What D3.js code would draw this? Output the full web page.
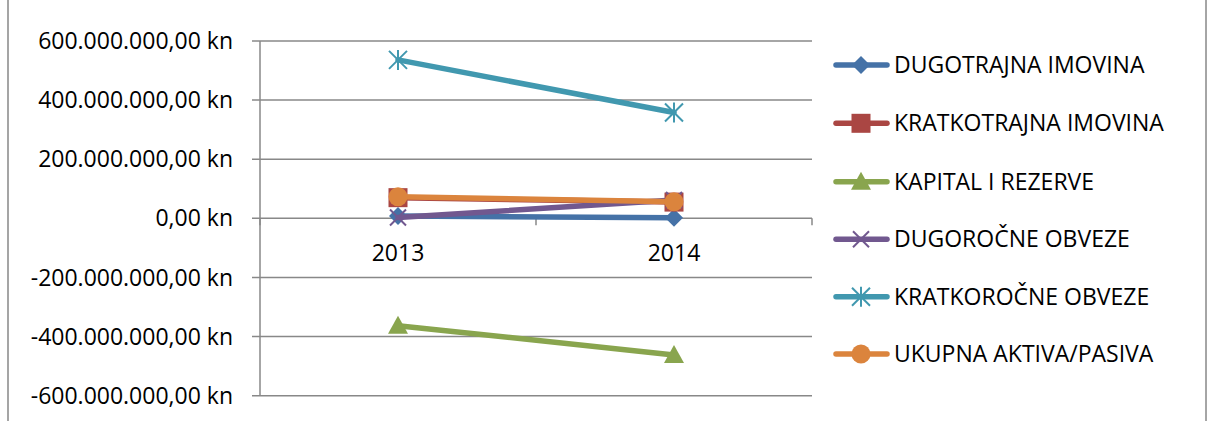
<!DOCTYPE html>
<html><head><meta charset="utf-8">
<script src="https://cdn.jsdelivr.net/npm/d3@7/dist/d3.min.js"></script>
<style>body{margin:0;background:#fff}svg{display:block}</style>
</head><body>
<svg id="c" width="1214" height="421"></svg>
<script>
const categories = ["2013", "2014"];
const seriesNames = ["DUGOTRAJNA IMOVINA","KRATKOTRAJNA IMOVINA","KAPITAL I REZERVE","DUGOROČNE OBVEZE","KRATKOROČNE OBVEZE","UKUPNA AKTIVA/PASIVA"];
const dugotrajna = [8e6, 2e6];
const kratkotrajna = [70e6, 55e6];
const kapital = [-363e6, -462e6];
const dugorocne = [3e6, 62e6];
const kratkorocne = [536e6, 358e6];
const ukupna = [73e6, 56e6];
const yTicks = [600e6, 400e6, 200e6, 0, -200e6, -400e6, -600e6];
const colors = ["#4572A7","#AA4643","#89A54E","#71588F","#4198AF","#DB843D"];
const markers = ["diamond","square","triangle","x","star","circle"];
const seriesValues = [dugotrajna, kratkotrajna, kapital, dugorocne, kratkorocne, ukupna];

const svg = d3.select("#c");
const font = "'Open Sans', sans-serif";
const fs = 23;
svg.append("rect").attr("x",8).attr("y",-5).attr("width",1198).attr("height",440)
  .attr("fill","none").attr("stroke","#888").attr("stroke-width",1.5);

const pL = 260, pR = 812, pT = 41, pB = 395.7;
const x = d3.scaleBand().domain(categories).range([pL, pR]);
const y = d3.scaleLinear().domain([-600e6, 600e6]).range([pB, pT]);

function fmt(v){
  const s = d3.format(",.2f")(Math.abs(v)).replace(/,/g,"X").replace(/\./g,",").replace(/X/g,".");
  return (v<0?"-":"") + s + " kn";
}

// gridlines
svg.append("g").selectAll("line").data(yTicks).join("line")
  .attr("x1",pL-8).attr("x2",pR).attr("y1",d=>y(d)).attr("y2",d=>y(d))
  .attr("stroke","#888").attr("stroke-width",1.5);
// y axis line
svg.append("line").attr("x1",pL).attr("x2",pL).attr("y1",pT).attr("y2",pB)
  .attr("stroke","#888").attr("stroke-width",1.5);
// y labels
svg.append("g").selectAll("text").data(yTicks).join("text")
  .attr("x",233).attr("y",d=>y(d)).attr("dy","0.35em").attr("text-anchor","end")
  .attr("font-family",font).attr("font-size",fs).attr("fill","#000").text(d=>fmt(d));
// x axis ticks at zero
const catTicks = [pL, ...categories.map(c=>x(c)+x.bandwidth())];
svg.append("g").selectAll("line").data(catTicks).join("line")
  .attr("x1",d=>d).attr("x2",d=>d).attr("y1",y(0)).attr("y2",y(0)+7)
  .attr("stroke","#888").attr("stroke-width",1.5);
svg.append("g").selectAll("text").data(categories).join("text")
  .attr("x",d=>x(d)+x.bandwidth()/2).attr("y",y(0)+35).attr("dy","0.35em").attr("text-anchor","middle")
  .attr("font-family",font).attr("font-size",fs).attr("fill","#000").text(d=>d);

function drawMarker(g, type, color){
  if(type==="diamond") g.append("path").attr("d","M0,-9L9,0L0,9L-9,0Z").attr("fill",color);
  else if(type==="square") g.append("rect").attr("x",-9.5).attr("y",-9.5).attr("width",19).attr("height",19).attr("fill",color);
  else if(type==="triangle") g.append("path").attr("d","M0,-10L10,8L-10,8Z").attr("fill",color);
  else if(type==="circle") g.append("circle").attr("r",9.5).attr("fill",color);
  else if(type==="x") g.append("path").attr("d","M-8,-8L8,8M-8,8L8,-8").attr("stroke",color).attr("stroke-width",2).attr("fill","none");
  else if(type==="star") g.append("path").attr("d","M-9,-9L9,9M-9,9L9,-9M0,-10L0,10").attr("stroke",color).attr("stroke-width",2).attr("fill","none");
}

const line = d3.line().x((d,i)=>x(categories[i])+x.bandwidth()/2).y(d=>y(d));
seriesValues.forEach((vals,si)=>{
  const g = svg.append("g");
  g.append("path").datum(vals).attr("d",line).attr("fill","none")
    .attr("stroke",colors[si]).attr("stroke-width",5.5).attr("stroke-linecap","round");
  vals.forEach((v,i)=>{
    const mg = g.append("g").attr("transform",`translate(${x(categories[i])+x.bandwidth()/2},${y(v)})`);
    drawMarker(mg, markers[si], colors[si]);
  });
});

// legend
const legY = [65, 123.3, 181.7, 239.3, 296.7, 354];
seriesNames.forEach((name,i)=>{
  const g = svg.append("g").attr("transform",`translate(0,${legY[i]})`);
  g.append("line").attr("x1",836).attr("x2",887).attr("y1",0).attr("y2",0)
    .attr("stroke",colors[i]).attr("stroke-width",5.5).attr("stroke-linecap","round");
  const mg = g.append("g").attr("transform","translate(861,0)");
  drawMarker(mg, markers[i], colors[i]);
  g.append("text").attr("x",894).attr("y",0).attr("dy","0.35em")
    .attr("font-family",font).attr("font-size",fs).attr("fill","#000").text(name);
});
</script>
</body></html>
